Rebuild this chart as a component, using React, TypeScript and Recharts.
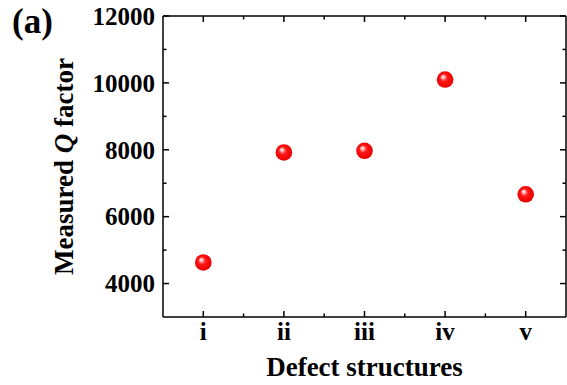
import { ScatterChart, Scatter, XAxis, YAxis, Label } from 'recharts'

const categories = ['i', 'ii', 'iii', 'iv', 'v']
const qFactor = [4630, 7920, 7970, 10100, 6670]
const yMajorTicks = [4000, 6000, 8000, 10000, 12000]
const yMinorTicks = [5000, 7000, 9000, 11000]

const FONT = '"Liberation Serif", "Times New Roman", serif'
const X_GAP = 23
const Y_GAP = 8

const data = categories.map((name, i) => ({ pos: i + 1, name, q: qFactor[i] }))
const xTicks = categories.flatMap((_, i) => (i < categories.length - 1 ? [i + 1, i + 1.5] : [i + 1]))
const yTicks = [...yMajorTicks, ...yMinorTicks].sort((a, b) => a - b)

function BottomTick({ x, y, payload }: any) {
  const v = payload.value
  const major = Number.isInteger(v)
  const base = y - X_GAP
  return (
    <g>
      <line x1={x} x2={x} y1={base} y2={base - (major ? 6 : 3.5)} stroke="#000" strokeWidth={1.5} />
      {major && (
        <text x={x} y={y} textAnchor="middle" fontFamily={FONT} fontWeight="bold" fontSize={25} fill="#000">
          {categories[v - 1]}
        </text>
      )}
    </g>
  )
}

function TopTick({ x, y, payload }: any) {
  const major = Number.isInteger(payload.value)
  return <line x1={x} x2={x} y1={y} y2={y + (major ? 6 : 3.5)} stroke="#000" strokeWidth={1.5} />
}

function LeftTick({ x, y, payload }: any) {
  const v = payload.value
  const major = yMajorTicks.includes(v)
  const base = x + Y_GAP
  return (
    <g>
      <line x1={base} x2={base + (major ? 6 : 3.5)} y1={y} y2={y} stroke="#000" strokeWidth={1.5} />
      {major && (
        <text x={x} y={y} dy="0.35em" textAnchor="end" fontFamily={FONT} fontWeight="bold" fontSize={25} fill="#000">
          {v}
        </text>
      )}
    </g>
  )
}

function RightTick({ x, y, payload }: any) {
  const major = yMajorTicks.includes(payload.value)
  return <line x1={x} x2={x - (major ? 6 : 3.5)} y1={y} y2={y} stroke="#000" strokeWidth={1.5} />
}

function Ball({ cx, cy, index }: any) {
  const id = `ball-${index}`
  return (
    <g>
      <defs>
        <radialGradient id={id} cx="0.5" cy="0.5" r="0.55" fx="0.36" fy="0.32">
          <stop offset="0%" stopColor="#ffffff" />
          <stop offset="14%" stopColor="#ffc0c0" />
          <stop offset="40%" stopColor="#ff1a1a" />
          <stop offset="85%" stopColor="#f00000" />
          <stop offset="100%" stopColor="#c80000" />
        </radialGradient>
      </defs>
      <circle cx={cx} cy={cy} r={8.3} fill={`url(#${id})`} />
    </g>
  )
}

const XTitle = ({ viewBox }: any) => (
  <text x={viewBox.x + viewBox.width / 2} y={viewBox.y + 59} textAnchor="middle"
    fontFamily={FONT} fontWeight="bold" fontSize={27} fill="#000">
    Defect structures
  </text>
)

const YTitle = ({ viewBox }: any) => {
  const tx = 73
  const ty = viewBox.y + viewBox.height / 2
  return (
    <text x={tx} y={ty} transform={`rotate(-90 ${tx} ${ty})`} textAnchor="middle"
      fontFamily={FONT} fontWeight="bold" fontSize={27} fill="#000">
      Measured <tspan fontStyle="italic">Q</tspan> factor
    </text>
  )
}

export default function App() {
  return (
    <div style={{ position: 'absolute', left: 0, top: 0, width: 567, height: 385, background: '#fff' }}>
      <div style={{ position: 'absolute', left: 12, top: 4, fontFamily: FONT, fontWeight: 'bold', fontSize: 35, lineHeight: 1 }}>
        (a)
      </div>
      <ScatterChart width={567} height={385} margin={{ top: 15, right: 0, bottom: 0, left: 0 }}>
        <XAxis xAxisId="b" dataKey="pos" type="number" domain={[0.5, 5.5]} ticks={xTicks} interval={0}
          height={68} tickSize={0} tickMargin={X_GAP} tick={<BottomTick />} tickLine={false}
          axisLine={{ stroke: '#000', strokeWidth: 1.5 }}>
          <Label content={<XTitle />} />
        </XAxis>
        <XAxis xAxisId="t" orientation="top" dataKey="pos" type="number" domain={[0.5, 5.5]} ticks={xTicks}
          interval={0} height={1} tickSize={0} tickMargin={0} tick={<TopTick />} tickLine={false}
          axisLine={{ stroke: '#000', strokeWidth: 1.5 }} />
        <YAxis yAxisId="l" dataKey="q" type="number" domain={[3000, 12000]} ticks={yTicks} interval={0}
          width={163} tickSize={0} tickMargin={Y_GAP} tick={<LeftTick />} tickLine={false}
          axisLine={{ stroke: '#000', strokeWidth: 1.5 }}>
          <Label content={<YTitle />} />
        </YAxis>
        <YAxis yAxisId="r" orientation="right" dataKey="q" type="number" domain={[3000, 12000]} ticks={yTicks}
          interval={0} width={1} tickSize={0} tickMargin={0} tick={<RightTick />} tickLine={false}
          axisLine={{ stroke: '#000', strokeWidth: 1.5 }} />
        <Scatter data={data} xAxisId="t" yAxisId="r" shape={() => <g />} isAnimationActive={false} />
        <Scatter data={data} xAxisId="b" yAxisId="l" shape={<Ball />} isAnimationActive={false} />
      </ScatterChart>
    </div>
  )
}
